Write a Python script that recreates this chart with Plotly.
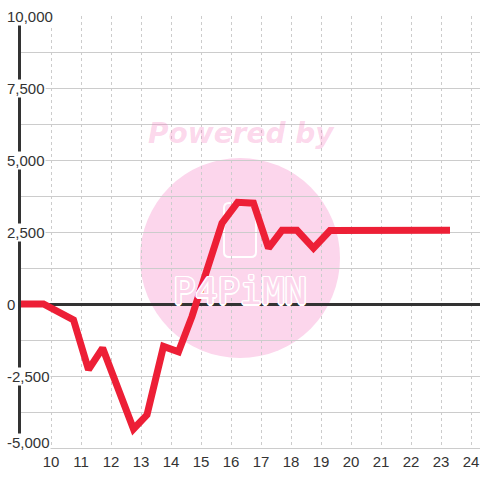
import plotly.graph_objects as go

# ---- data ----
hours = [9, 9.75, 10.75, 11.25, 11.72, 12.15, 12.75, 13.2, 13.75, 14.25, 14.7,
         15.7, 16.22, 16.75, 17.25, 17.7, 18.2, 18.75, 19.3, 23.3]
values = [0, 0, -550, -2280, -1530, -2690, -4340, -3850, -1470, -1660, -430,
          2810, 3530, 3500, 1940, 2560, 2560, 1940, 2550, 2560]
x_ticks = list(range(10, 25))
y_ticks = [10000, 7500, 5000, 2500, 0, -2500, -5000]
y_tick_labels = ["10,000", "7,500", "5,000", "2,500", "0", "-2,500", "-5,000"]

BG = "#ffffff"
PINK = "#fcd6ec"
TXT = "#333333"

fig = go.Figure()
fig.add_trace(go.Scatter(
    x=hours, y=values, mode="lines",
    line=dict(color="#ed1f36", width=7),
    hoverinfo="skip", showlegend=False,
))

# watermark
fig.add_shape(type="circle", xref="paper", yref="paper",
              x0=0.2593, x1=0.6950, y0=0.2083, y1=0.6713,
              fillcolor=PINK, line=dict(width=0), layer="below")

# rounded rectangle logo (paper coords)
def px(x):
    return (x - 21) / 459

def py(y):
    return (448 - y) / 432

L, R, T, B, r = 224, 256, 203, 257, 5
path = (f"M {px(L + r)},{py(T)} L {px(R - r)},{py(T)} Q {px(R)},{py(T)} {px(R)},{py(T + r)} "
        f"L {px(R)},{py(B - r)} Q {px(R)},{py(B)} {px(R - r)},{py(B)} "
        f"L {px(L + r)},{py(B)} Q {px(L)},{py(B)} {px(L)},{py(B - r)} "
        f"L {px(L)},{py(T + r)} Q {px(L)},{py(T)} {px(L + r)},{py(T)} Z")
fig.add_shape(type="path", xref="paper", yref="paper", path=path,
              line=dict(color="white", width=2), fillcolor="rgba(0,0,0,0)",
              layer="below")

annotations = [
    dict(text="Powered by", xref="paper", yref="paper",
         x=px(241.5), y=py(133), xanchor="center", yanchor="middle",
         showarrow=False,
         font=dict(family="DejaVu Sans", size=28, color="rgba(245,120,190,0.3)",
                   weight="bold", style="italic")),
    dict(text="P4PiMN", xref="paper", yref="paper",
         x=px(240), y=py(291), xanchor="center", yanchor="middle",
         showarrow=False,
         font=dict(family="DejaVu Sans Mono", size=37, color=PINK,
                   shadow=("1.5px 0 0 white, -1.5px 0 0 white, 0 1.5px 0 white, "
                           "0 -1.5px 0 white, 1px 1px 0 white, -1px -1px 0 white, "
                           "1px -1px 0 white, -1px 1px 0 white"))),
]

for v, lab in zip(y_ticks, y_tick_labels):
    annotations.append(dict(
        text=lab, xref="paper", yref="y", x=0, y=v,
        xanchor="left", yanchor="middle", xshift=-15,
        yshift=6 if v == -5000 else 0,
        showarrow=False, bgcolor=BG, borderpad=0,
        font=dict(family="Liberation Sans", size=15, color=TXT),
    ))

fig.update_layout(
    width=480, height=480,
    margin=dict(l=21, r=0, t=16, b=32, autoexpand=False),
    paper_bgcolor=BG, plot_bgcolor=BG,
    annotations=annotations,
    showlegend=False,
    xaxis=dict(
        range=[9, 24.3], tickvals=x_ticks, ticktext=[str(t) for t in x_ticks],
        showgrid=True, gridcolor="#cccccc", gridwidth=1, griddash="3px,3px",
        zeroline=False, showline=True, linecolor="#cccccc", linewidth=1,
        ticks="", tickfont=dict(family="Liberation Sans", size=15, color=TXT),
        automargin=False, fixedrange=True,
    ),
    yaxis=dict(
        range=[-5000, 10000], dtick=1250, tick0=0,
        showgrid=True, gridcolor="#cccccc", gridwidth=1,
        zeroline=True, zerolinecolor="#333333", zerolinewidth=3,
        showline=True, linecolor="#333333", linewidth=3,
        showticklabels=False, ticks="", automargin=False, fixedrange=True,
    ),
)

fig.write_html("out.html", config={"displayModeBar": False},
               post_script="document.body.style.margin='0';document.body.style.overflow='hidden';")
